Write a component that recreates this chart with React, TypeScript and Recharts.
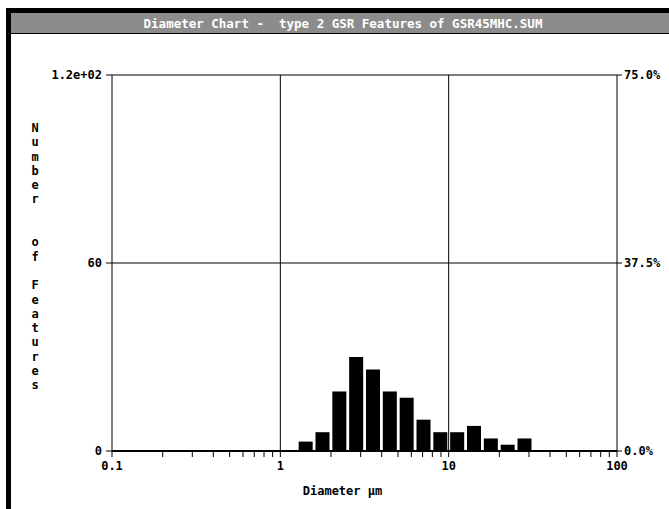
import React from 'react';
import {
  ComposedChart, Bar, Line, XAxis, YAxis, CartesianGrid, ReferenceLine
} from 'recharts';

// lower edge of every diameter bin (10 bins per decade, µm)
const binStart = [
  0.1, 0.126, 0.158, 0.2, 0.251, 0.316, 0.398, 0.501, 0.631, 0.794,
  1, 1.26, 1.58, 2, 2.51, 3.16, 3.98, 5.01, 6.31, 7.94,
  10, 12.6, 15.8, 20, 25.1, 31.6, 39.8, 50.1, 63.1, 79.4,
];
// number of features in each bin
const featureCounts = [
  0, 0, 0, 0, 0, 0, 0, 0, 0, 0,
  0, 3, 6, 19, 30, 26, 19, 17, 10, 6,
  6, 8, 4, 2, 4, 0, 0, 0, 0, 0,
];
const diameterTicks = [
  0.1, 0.2, 0.3, 0.4, 0.5, 0.6, 0.7, 0.8, 0.9,
  1, 2, 3, 4, 5, 6, 7, 8, 9,
  10, 20, 30, 40, 50, 60, 70, 80, 90, 100,
];
const decadeLabels = [0.1, 1, 10, 100];
const gridDiameters = [1, 10];
const countTicks = [0, 60, 120];
const percentTicks = [0, 37.5, 75];

const TITLE = 'Diameter Chart -  type 2 GSR Features of GSR45MHC.SUM';
const Y_TITLE = 'Number  of Features';

const data = binStart.map((lo, i) => ({ bin: String(lo), lo, count: featureCounts[i] }));

const MONO = '"DejaVu Sans Mono", monospace';
const tickFont = { fill: '#000', fontSize: 12, fontFamily: MONO, fontWeight: 'bold' };

export default function App() {
  return (
    <div style={{ position: 'relative', width: 669, height: 509, background: '#fff' }}>
      <style>{'body{margin:0}'}</style>
      {/* window frame */}
      <div style={{ position: 'absolute', left: 6, top: 8, width: 663, height: 5, background: '#000' }} />
      <div style={{ position: 'absolute', left: 6, top: 8, width: 5, height: 501, background: '#000' }} />
      <div style={{
        position: 'absolute', left: 11, top: 13, width: 658, height: 20,
        background: '#8c8c8c', borderBottom: '1px solid #000',
      }} />
      <div style={{
        position: 'absolute', left: 0, width: 686, top: 14, height: 20, lineHeight: '20px',
        textAlign: 'center', color: '#fff', fontFamily: MONO, fontWeight: 'bold',
        fontSize: 12.5, whiteSpace: 'pre',
      }}>
        {TITLE}
      </div>

      {/* vertical y title */}
      <div style={{
        position: 'absolute', left: 28, top: 121, width: 14, textAlign: 'center',
        fontFamily: MONO, fontWeight: 'bold', fontSize: 12, color: '#000',
      }}>
        {Y_TITLE.split('').map((ch, i) => (
          <div key={i} style={{ height: 14.3, lineHeight: '14.3px' }}>{ch === ' ' ? '\u00a0' : ch}</div>
        ))}
      </div>

      <div style={{ position: 'absolute', left: 0, top: 0 }}>
        <ComposedChart
          width={669}
          height={509}
          data={data}
          barCategoryGap={1.5}
          margin={{ top: 75, right: 2, bottom: 18, left: 52 }}
          style={{ fontFamily: MONO }}
        >
          <XAxis xAxisId="bins" dataKey="bin" type="category" hide height={0} />
          <XAxis
            xAxisId="log"
            dataKey="lo"
            type="number"
            scale="log"
            domain={[0.1, 100]}
            allowDataOverflow
            ticks={diameterTicks}
            interval={0}
            height={40}
            tickSize={6}
            tickMargin={4}
            tick={tickFont}
            tickLine={{ stroke: '#000' }}
            axisLine={{ stroke: '#000', strokeWidth: 2 }}
            tickFormatter={(v: number) => (decadeLabels.includes(v) ? String(v) : '')}
            label={{
              value: 'Diameter \u00b5m', position: 'insideBottom', offset: -4, dx: -22,
              style: { fill: '#000', fontSize: 12, fontFamily: MONO, fontWeight: 'bold' },
            }}
          />
          <YAxis
            yAxisId="left"
            type="number"
            domain={[0, 120]}
            ticks={countTicks}
            width={60}
            tickSize={6}
            tickMargin={4}
            tick={tickFont}
            tickLine={{ stroke: '#000' }}
            axisLine={{ stroke: '#000' }}
            tickFormatter={(v: number) => (v === 120 ? '1.2e+02' : String(v))}
          />
          <YAxis
            yAxisId="right"
            orientation="right"
            type="number"
            domain={[0, 75]}
            allowDataOverflow
            ticks={percentTicks}
            width={50}
            tickSize={5}
            tickMargin={2}
            tick={tickFont}
            tickLine={{ stroke: '#000' }}
            axisLine={{ stroke: '#000' }}
            tickFormatter={(v: number) => v.toFixed(1) + '%'}
          />
          <CartesianGrid xAxisId="log" yAxisId="left" vertical={false} stroke="#000" />
          {gridDiameters.map((d) => (
            <ReferenceLine key={d} x={d} xAxisId="log" yAxisId="left" stroke="#000" />
          ))}
          <Bar
            xAxisId="bins"
            yAxisId="left"
            dataKey="count"
            fill="#000"
            isAnimationActive={false}
          />
          {/* keeps the percent axis bound to the data; draws nothing */}
          <Line
            xAxisId="bins"
            yAxisId="right"
            dataKey="count"
            stroke="none"
            dot={false}
            activeDot={false}
            isAnimationActive={false}
          />
        </ComposedChart>
      </div>
    </div>
  );
}
